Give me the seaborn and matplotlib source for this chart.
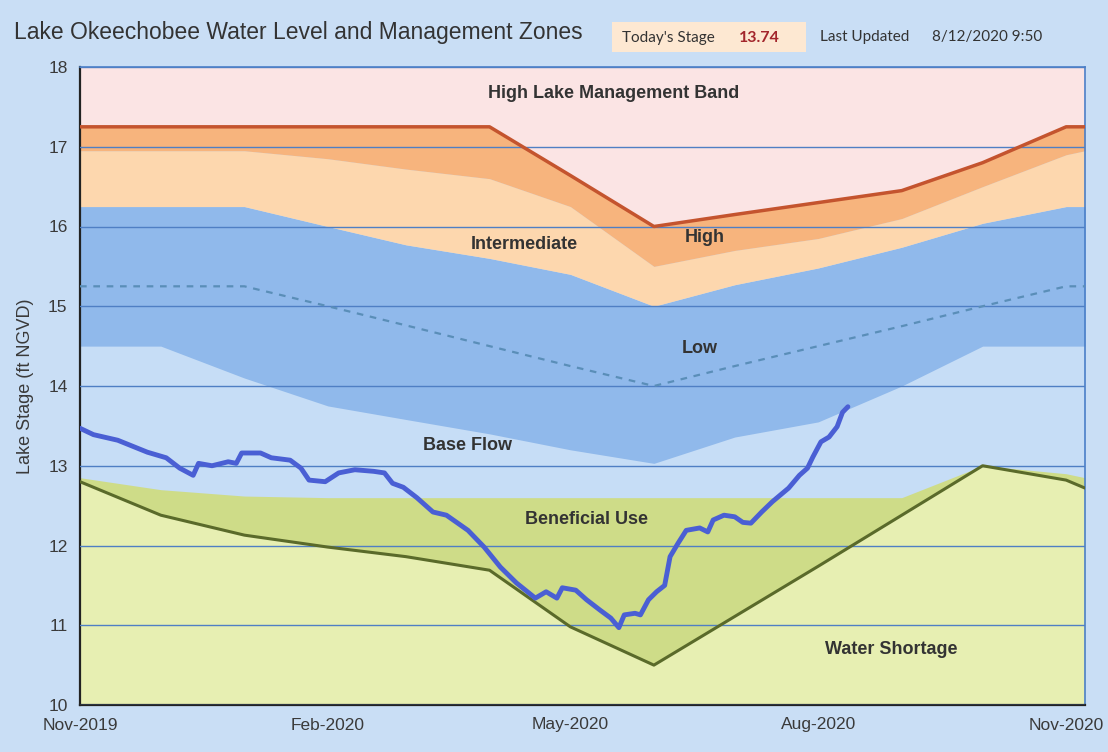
import pandas as pd
import matplotlib
matplotlib.use("Agg")
from matplotlib import pyplot as plt
import matplotlib.dates as mdates
import seaborn as sns

# management zone boundaries (ft NGVD), read at the first of each month
zone_dates = pd.to_datetime([
    "2019-11-01", "2019-12-01", "2020-01-01", "2020-02-01", "2020-03-01",
    "2020-04-01", "2020-05-01", "2020-06-01", "2020-07-01", "2020-08-01",
    "2020-09-01", "2020-10-01", "2020-11-01", "2020-11-08",
])
high_band_bottom = [17.25, 17.25, 17.25, 17.25, 17.25, 17.25, 16.64, 16.0, 16.15, 16.3, 16.45, 16.8, 17.25, 17.25]
high_bottom = [16.95, 16.95, 16.95, 16.85, 16.72, 16.6, 16.25, 15.5, 15.7, 15.85, 16.1, 16.5, 16.9, 16.95]
intermediate_bottom = [16.25, 16.25, 16.25, 16.0, 15.77, 15.6, 15.4, 15.0, 15.27, 15.48, 15.74, 16.04, 16.25, 16.25]
low_dashed = [15.25, 15.25, 15.25, 15.0, 14.76, 14.5, 14.25, 14.0, 14.25, 14.5, 14.75, 15.0, 15.25, 15.25]
low_bottom = [14.5, 14.5, 14.1, 13.75, 13.58, 13.4, 13.2, 13.03, 13.36, 13.55, 14.0, 14.5, 14.5, 14.5]
base_flow_bottom = [12.85, 12.7, 12.62, 12.6, 12.6, 12.6, 12.6, 12.6, 12.6, 12.6, 12.6, 13.0, 12.9, 12.85]
water_shortage = [12.8, 12.38, 12.13, 11.98, 11.86, 11.69, 10.98, 10.5, 11.11, 11.74, 12.38, 13.0, 12.82, 12.72]

# lake stage readings
stage_dates = pd.to_datetime([
    "2019-11-01", "2019-11-06", "2019-11-15", "2019-11-26", "2019-12-03", "2019-12-08",
    "2019-12-13", "2019-12-15", "2019-12-20", "2019-12-26", "2019-12-29", "2019-12-31",
    "2020-01-07", "2020-01-11", "2020-01-18", "2020-01-22", "2020-01-25", "2020-01-31",
    "2020-02-05", "2020-02-11", "2020-02-18", "2020-02-22", "2020-02-25", "2020-02-29",
    "2020-03-05", "2020-03-11", "2020-03-16", "2020-03-24", "2020-03-30", "2020-04-05",
    "2020-04-11", "2020-04-18", "2020-04-22", "2020-04-26", "2020-04-28", "2020-05-03",
    "2020-05-07", "2020-05-12", "2020-05-16", "2020-05-19", "2020-05-21", "2020-05-25",
    "2020-05-27", "2020-05-30", "2020-06-02", "2020-06-05", "2020-06-07", "2020-06-10",
    "2020-06-13", "2020-06-18", "2020-06-21", "2020-06-23", "2020-06-27", "2020-07-01",
    "2020-07-04", "2020-07-07", "2020-07-11", "2020-07-15", "2020-07-21", "2020-07-25",
    "2020-07-28", "2020-07-30", "2020-08-02", "2020-08-05", "2020-08-08", "2020-08-10",
    "2020-08-12",
])
stage = [
    13.47, 13.39, 13.32, 13.17, 13.10, 12.97,
    12.88, 13.03, 13.00, 13.05, 13.03, 13.16,
    13.16, 13.10, 13.07, 12.97, 12.82, 12.80,
    12.91, 12.95, 12.93, 12.91, 12.78, 12.73,
    12.60, 12.42, 12.38, 12.19, 11.98, 11.73,
    11.53, 11.34, 11.42, 11.34, 11.47, 11.44,
    11.32, 11.19, 11.09, 10.97, 11.13, 11.15,
    11.13, 11.32, 11.42, 11.50, 11.86, 12.03,
    12.19, 12.22, 12.17, 12.32, 12.38, 12.36,
    12.29, 12.28, 12.42, 12.55, 12.72, 12.88,
    12.97, 13.11, 13.30, 13.36, 13.49, 13.67,
    13.74,
]
y_ticks = [10, 11, 12, 13, 14, 15, 16, 17, 18]
x_ticks = pd.to_datetime(["2019-11-01", "2020-02-01", "2020-05-01", "2020-08-01", "2020-11-01"])

sns.set_style("white")
plt.rcParams["font.family"] = ["Liberation Sans", "DejaVu Sans"]

bg = "#c9def5"
fig = plt.figure(figsize=(11.08, 7.52), dpi=100, facecolor=bg)
ax = fig.add_axes([80 / 1108, 1 - 705 / 752, 1005 / 1108, 638 / 752])
ax.set_facecolor("#c6ddf6")

ax.fill_between(zone_dates, 10, water_shortage, color="#e7efb2", lw=0)
ax.fill_between(zone_dates, water_shortage, base_flow_bottom, color="#cedc88", lw=0)
ax.fill_between(zone_dates, low_bottom, intermediate_bottom, color="#90b9eb", lw=0)
ax.fill_between(zone_dates, intermediate_bottom, high_bottom, color="#fdd7ae", lw=0)
ax.fill_between(zone_dates, high_bottom, high_band_bottom, color="#f7b47d", lw=0)
ax.fill_between(zone_dates, high_band_bottom, 18, color="#fbe4e4", lw=0)

ax.set_axisbelow(False)
ax.yaxis.grid(True, color="#4f7fc4", lw=1)

sns.lineplot(x=zone_dates, y=low_dashed, ax=ax, color="#5a8eb8", lw=1.6,
             linestyle=(0, (3, 3)), zorder=3)
sns.lineplot(x=zone_dates, y=high_band_bottom, ax=ax, color="#c4542e", lw=2.5, zorder=3)
sns.lineplot(x=zone_dates, y=water_shortage, ax=ax, color="#5a6a2a", lw=2.2, zorder=3)
sns.lineplot(x=stage_dates, y=stage, ax=ax, color="#4a5fd4", lw=3.5, zorder=4)

ax.set_xlim(zone_dates[0], zone_dates[-1])
ax.set_ylim(10, 18)
ax.set_yticks(y_ticks)
ax.set_xticks(x_ticks)
ax.xaxis.set_major_formatter(mdates.DateFormatter("%b-%Y"))
ax.tick_params(axis="both", direction="out", length=6, width=1.5, color="#222",
               labelsize=12.5, labelcolor="#3a3a3a", pad=3)
ax.set_xlabel("")
ax.set_ylabel("Lake Stage (ft NGVD)", fontsize=13, color="#3a3a3a", labelpad=10)

for side in ["left", "bottom"]:
    ax.spines[side].set_color("#222")
    ax.spines[side].set_linewidth(1.6)
for side in ["top", "right"]:
    ax.spines[side].set_color("#4a7fc8")
    ax.spines[side].set_linewidth(1.2)

# zone names
zone_labels = ["High Lake Management Band", "High", "Intermediate", "Low",
               "Base Flow", "Beneficial Use", "Water Shortage"]
label_pos = [("2020-05-17", 17.67), ("2020-06-20", 15.86), ("2020-04-14", 15.77),
             ("2020-06-18", 14.47), ("2020-03-24", 13.25), ("2020-05-07", 12.32),
             ("2020-08-28", 10.7)]
for name, (d, v) in zip(zone_labels, label_pos):
    ax.text(pd.Timestamp(d), v, name, ha="center", va="center", fontsize=13,
            fontweight="bold", color="#333333", zorder=5)

fig.text(14 / 1108, 1 - 32 / 752, "Lake Okeechobee Water Level and Management Zones",
         fontsize=16.5, color="#333333", va="center", ha="left")
fig.patches.append(plt.Rectangle((612 / 1108, 1 - 52 / 752), 194 / 1108, 30 / 752,
                                 transform=fig.transFigure, facecolor="#fde8d2",
                                 edgecolor="none"))
fig.text(622 / 1108, 1 - 38 / 752, "Today's Stage", fontsize=11, color="#333333",
         va="center", family=["Lato", "DejaVu Sans"])
fig.text(739 / 1108, 1 - 38 / 752, "13.74", fontsize=11.5, color="#a3262c",
         fontweight="bold", va="center", family=["Lato", "DejaVu Sans"])
fig.text(820 / 1108, 1 - 37 / 752, "Last Updated", fontsize=11, color="#333333",
         va="center", family=["Lato", "DejaVu Sans"])
fig.text(932 / 1108, 1 - 37 / 752, "8/12/2020 9:50", fontsize=11, color="#333333",
         va="center", family=["Lato", "DejaVu Sans"])

fig.savefig("out.png", dpi=100, facecolor=bg)
